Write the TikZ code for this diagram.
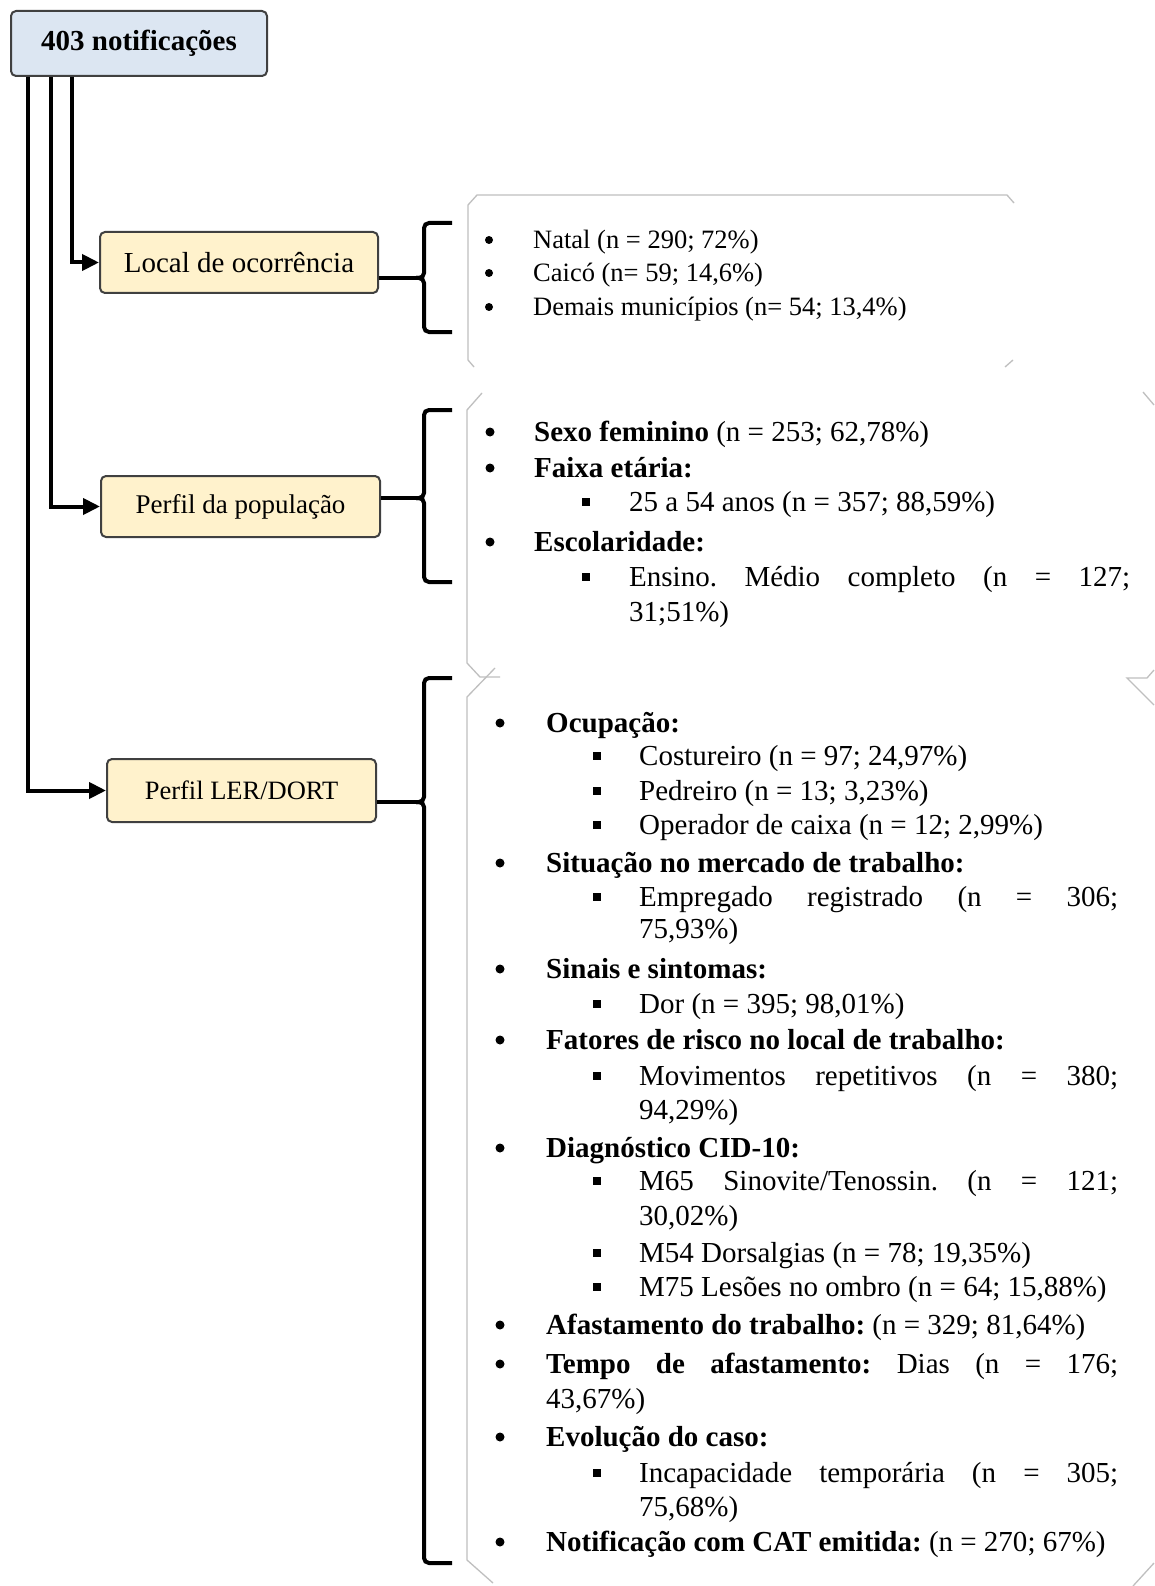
\documentclass[tikz,border=0pt]{standalone}
\usepackage{fontspec}
\setmainfont{Liberation Serif}
\usetikzlibrary{arrows.meta}
\frenchspacing
\definecolor{bluefill}{HTML}{DCE6F2}
\definecolor{yellowfill}{HTML}{FFF2CC}
\definecolor{boxline}{HTML}{404040}
\definecolor{panelgray}{HTML}{BFBFBF}
\newcommand\dotline[5]{\node[dot] (#1d) at (#2,#4) {};\node[ln] (#1) at (#3,{#4+9}) {#5};}
\newcommand\sqline[5]{\node[sq] (#1d) at (#2,#4) {};\node[ln] (#1) at (#3,{#4+9}) {#5};}
\newcommand\contline[4]{\node[ln] (#1) at (#2,{#3+9}) {#4};}
\newcommand\mybrace[3]{%
  \draw[conn,rounded corners=5pt] (452,#1) -- (424,#1) -- (424,#2) -- (416,#2);
  \draw[conn,rounded corners=5pt] (452,#3) -- (424,#3) -- (424,#2) -- (416,#2);}
\begin{document}
\frenchspacing
\begin{tikzpicture}[x=1pt,y=-1pt,
  conn/.style={line width=4pt,black},
  arr/.style={conn,-{Triangle[length=17pt,width=16pt]}},
  panel/.style={line width=1.3pt,draw=panelgray},
  bx/.style={draw=boxline,line width=2pt,rounded corners=5pt,inner sep=0pt},
  bbox/.style={bx,fill=bluefill},
  ybox/.style={bx,fill=yellowfill},
  ln/.style={anchor=base west,inner sep=0pt,font=\fontsize{29}{35}\selectfont\frenchspacing},
  dot/.style={circle,fill=black,inner sep=0pt,minimum size=9pt},
  sq/.style={rectangle,fill=black,inner sep=0pt,minimum size=7.5pt}]
\useasboundingbox (0,0) rectangle (1154,1586);
\fill[white] (0,0) rectangle (1154,1586);

% boxes
\node[bbox,minimum width=256pt,minimum height=65pt,font=\fontsize{29}{35}\selectfont\bfseries] (top) at (139,43.5) {403 notificações};
\node[ybox,minimum width=278pt,minimum height=61pt,font=\fontsize{29}{35}\selectfont] (loc) at (239,262.5) {Local de ocorrência};
\node[ybox,minimum width=279pt,minimum height=61pt,font=\fontsize{27}{33}\selectfont] (pop) at (240.5,506.5) {Perfil da população};
\node[ybox,minimum width=269pt,minimum height=63pt,font=\fontsize{26.5}{32}\selectfont] (ler) at (241.5,790.5) {Perfil LER/DORT};

% connectors from top box
\draw[arr] ([xshift=-67pt]top.south) |- (loc.west);
\draw[arr] ([xshift=-88pt]top.south) |- (pop.west);
\draw[arr] ([xshift=-111pt]top.south) |- (ler.west);

% braces
\coordinate (t1) at (416,278);
\coordinate (t2) at (416,498);
\coordinate (t3) at (416,802);
\draw[conn] (loc.east |- t1) -- (t1);
\draw[conn] (pop.east |- t2) -- (t2);
\draw[conn] (ler.east |- t3) -- (t3);
\mybrace{223}{278}{332}
\mybrace{410}{498}{582}
\mybrace{678}{802}{1563}

% panel outlines
\draw[panel] (474,367) -- (468,360) -- (468,205) -- (477,195) -- (1007,195) -- (1014,203);
\draw[panel] (1005,367) -- (1013,360);
\draw[panel] (500,677) -- (480,677) -- (467,663) -- (467,410) -- (482,393);
\draw[panel] (1143,392) -- (1154,405);
\draw[panel] (1154,705) -- (1127,678) -- (1147,678) -- (1154,670);
\draw[panel] (495,668) -- (467,697) -- (467,1560) -- (493,1583);
\draw[panel] (1133,1586) -- (1154,1563);

% panel 1
\begin{scope}[ln/.append style={font=\fontsize{26.5}{32}\selectfont\frenchspacing},dot/.append style={minimum size=8pt}]
\dotline{a1}{489}{533}{240}{Natal (n = 290; 72\%)}
\dotline{a2}{489}{533}{273}{Caicó (n= 59; 14,6\%)}
\dotline{a3}{489}{533}{307}{Demais municípios (n= 54; 13,4\%)}
\end{scope}

% panel 2
\dotline{b1}{490}{534}{432}{\textbf{Sexo feminino} (n = 253; 62,78\%)}
\dotline{b2}{490}{534}{468}{\textbf{Faixa etária:}}
\sqline{b3}{586}{629}{502}{25 a 54 anos (n = 357; 88,59\%)}
\dotline{b4}{490}{534}{542}{\textbf{Escolaridade:}}
\sqline{b5}{586}{629}{577}{\makebox[501pt][s]{Ensino. Médio completo (n = 127;}}
\contline{b6}{629}{612}{31;51\%)}

% panel 3
\dotline{c1}{500}{546}{723}{\textbf{Ocupação:}}
\sqline{c2}{597}{639}{756}{Costureiro (n = 97; 24,97\%)}
\sqline{c3}{597}{639}{791}{Pedreiro (n = 13; 3,23\%)}
\sqline{c4}{597}{639}{825}{Operador de caixa (n = 12; 2,99\%)}
\dotline{c5}{500}{546}{863}{\textbf{Situação no mercado de trabalho:}}
\sqline{c6}{597}{639}{897}{\makebox[479pt][s]{Empregado registrado (n = 306;}}
\contline{c7}{639}{929}{75,93\%)}
\dotline{c8}{500}{546}{969}{\textbf{Sinais e sintomas:}}
\sqline{c9}{597}{639}{1004}{Dor (n = 395; 98,01\%)}
\dotline{c10}{500}{546}{1040}{\textbf{Fatores de risco no local de trabalho:}}
\sqline{c11}{597}{639}{1076}{\makebox[479pt][s]{Movimentos repetitivos (n = 380;}}
\contline{c12}{639}{1110}{94,29\%)}
\dotline{c13}{500}{546}{1148}{\textbf{Diagnóstico CID-10:}}
\sqline{c14}{597}{639}{1181}{\makebox[479pt][s]{M65 Sinovite/Tenossin. (n = 121;}}
\contline{c15}{639}{1216}{30,02\%)}
\sqline{c16}{597}{639}{1253}{M54 Dorsalgias (n = 78; 19,35\%)}
\sqline{c17}{597}{639}{1287}{M75 Lesões no ombro (n = 64; 15,88\%)}
\dotline{c18}{500}{546}{1325}{\textbf{Afastamento do trabalho:} (n = 329; 81,64\%)}
\dotline{c19}{500}{546}{1364}{\makebox[572pt][s]{\textbf{Tempo de afastamento:} Dias (n = 176;}}
\contline{c20}{546}{1399}{43,67\%)}
\dotline{c21}{500}{546}{1437}{\textbf{Evolução do caso:}}
\sqline{c22}{597}{639}{1473}{\makebox[479pt][s]{Incapacidade temporária (n = 305;}}
\contline{c23}{639}{1507}{75,68\%)}
\dotline{c24}{500}{546}{1542}{\textbf{Notificação com CAT emitida:} (n = 270; 67\%)}
\end{tikzpicture}
\end{document}
